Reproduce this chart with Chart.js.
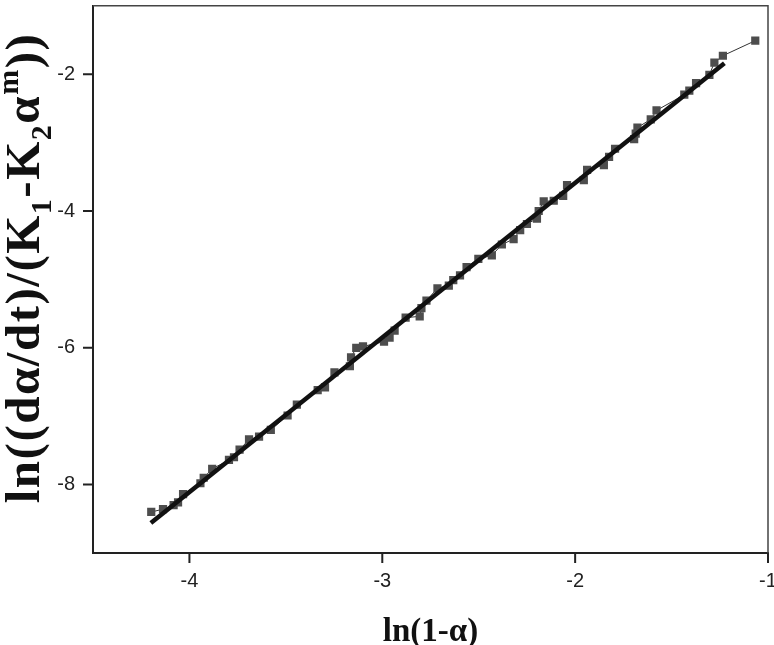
<!DOCTYPE html>
<html>
<head>
<meta charset="utf-8">
<script src="https://cdn.jsdelivr.net/npm/chart.js@4.4.0/dist/chart.umd.min.js"></script>
<style>
  html, body { margin: 0; padding: 0; background: #fff; }
</style>
</head>
<body>
<canvas id="fitChart" width="774" height="645"></canvas>
<script>
// ln(1-alpha) values (x) and ln((da/dt)/(K1-K2*a^m)) values (y)
const lnOneMinusAlpha = [
  -4.198, -4.137, -4.082, -4.059, -4.033, -3.943, -3.926, -3.882, -3.795, -3.769,
  -3.740, -3.691, -3.639, -3.578, -3.491, -3.443, -3.335, -3.297, -3.248, -3.168,
  -3.162, -3.135, -3.100, -2.991, -2.962, -2.936, -2.879, -2.806, -2.797, -2.771,
  -2.714, -2.655, -2.632, -2.597, -2.563, -2.502, -2.432, -2.380, -2.319, -2.285,
  -2.250, -2.198, -2.189, -2.163, -2.111, -2.062, -2.042, -1.955, -1.938, -1.851,
  -1.824, -1.793, -1.694, -1.686, -1.677, -1.608, -1.578, -1.434, -1.408, -1.373,
  -1.304, -1.278, -1.234, -1.066
];
const lnRateTerm = [
  -8.40, -8.36, -8.30, -8.26, -8.14, -7.98, -7.90, -7.77, -7.64, -7.60,
  -7.49, -7.34, -7.30, -7.20, -6.99, -6.83, -6.62, -6.58, -6.36, -6.27,
  -6.14, -6.00, -5.98, -5.91, -5.85, -5.75, -5.56, -5.54, -5.42, -5.31,
  -5.13, -5.09, -5.01, -4.94, -4.82, -4.70, -4.65, -4.49, -4.41, -4.28,
  -4.19, -4.11, -4.00, -3.86, -3.85, -3.78, -3.62, -3.55, -3.40, -3.33,
  -3.21, -3.09, -2.95, -2.87, -2.78, -2.66, -2.53, -2.30, -2.24, -2.13,
  -2.01, -1.83, -1.73, -1.51
];

// linear fit end points
const fitX = [-4.20, -1.226];
const fitY = [-8.56, -1.84];

// labelled ticks
const xTickLabels = [-4, -3, -2, -1];
const yTickLabels = [-8, -6, -4, -2];

const points = lnOneMinusAlpha.map((x, i) => ({ x: x, y: lnRateTerm[i] }));
const fitLine = fitX.map((x, i) => ({ x: x, y: fitY[i] }));

// tick marks: long at labelled values, short in between
const axisTicks = {
  id: 'axisTicks',
  afterDraw(chart) {
    const ctx = chart.ctx;
    const a = chart.chartArea;
    const xs = chart.scales.x;
    const ys = chart.scales.y;
    ctx.save();
    ctx.strokeStyle = '#222';
    ctx.lineWidth = 2;
    ctx.beginPath();
    xs.ticks.forEach(t => {
      const px = xs.getPixelForValue(t.value);
      if (px <= a.left + 1) return;
      const len = xTickLabels.includes(t.value) ? 10 : 6;
      ctx.moveTo(px, a.bottom);
      ctx.lineTo(px, a.bottom + len);
    });
    ys.ticks.forEach(t => {
      const py = ys.getPixelForValue(t.value);
      if (py >= a.bottom - 1 || py <= a.top + 1) return;
      const len = yTickLabels.includes(t.value) ? 10 : 6;
      ctx.moveTo(a.left, py);
      ctx.lineTo(a.left - len, py);
    });
    ctx.stroke();

    // thin frame on top and right
    ctx.strokeStyle = '#444';
    ctx.lineWidth = 1.5;
    ctx.beginPath();
    ctx.moveTo(a.left, a.top);
    ctx.lineTo(a.right, a.top);
    ctx.lineTo(a.right, a.bottom);
    ctx.stroke();
    ctx.restore();
  }
};

// y title with sub- and superscripts
const yTitle = {
  id: 'yTitle',
  afterDraw(chart) {
    const ctx = chart.ctx;
    const size = 49;
    const big = 'bold ' + size + 'px "Liberation Serif"';
    const small = 'bold ' + Math.round(size * 0.62) + 'px "Liberation Serif"';
    const parts = [
      { t: 'ln((d\u03b1/dt)/(K' },
      { t: '1', dy: 0.25 },
      { t: '-K' },
      { t: '2', dy: 0.25 },
      { t: '\u03b1' },
      { t: 'm', dy: -0.42 },
      { t: '))' }
    ];
    ctx.save();
    ctx.letterSpacing = '1.5px';
    let total = 0;
    parts.forEach(p => {
      ctx.font = p.dy ? small : big;
      p.w = ctx.measureText(p.t).width;
      total += p.w;
    });
    ctx.translate(39, 268);
    ctx.rotate(-Math.PI / 2);
    ctx.fillStyle = '#111';
    ctx.textBaseline = 'alphabetic';
    let x = -total / 2;
    parts.forEach(p => {
      ctx.font = p.dy ? small : big;
      ctx.fillText(p.t, x, (p.dy || 0) * size);
      x += p.w;
    });
    ctx.restore();
  }
};

new Chart(document.getElementById('fitChart'), {
  type: 'scatter',
  data: {
    datasets: [
      {
        label: 'fit',
        data: fitLine,
        showLine: true,
        borderColor: '#111',
        borderWidth: 4.5,
        pointRadius: 0,
        order: 0
      },
      {
        label: 'data',
        data: points,
        showLine: true,
        borderColor: '#333',
        borderWidth: 1,
        pointStyle: 'rect',
        pointRadius: 5.8,
        pointBackgroundColor: '#4d4d4d',
        pointBorderWidth: 0,
        order: 1
      }
    ]
  },
  options: {
    responsive: false,
    animation: false,
    devicePixelRatio: 1,
    layout: { padding: { left: 0, top: 3, right: 6, bottom: 0 } },
    plugins: {
      legend: { display: false },
      tooltip: { enabled: false }
    },
    scales: {
      x: {
        type: 'linear',
        min: -4.5,
        max: -1,
        grid: { display: true, drawOnChartArea: false, drawTicks: true, tickLength: 10, tickColor: 'rgba(0,0,0,0)' },
        border: { display: true, color: '#222', width: 2 },
        ticks: {
          stepSize: 0.5,
          padding: 6,
          maxRotation: 0,
          autoSkip: false,
          color: '#222',
          font: { family: '"Liberation Sans", Arial', size: 20 },
          callback: v => xTickLabels.includes(v) ? String(v) : null
        },
        title: {
          display: true,
          text: 'ln(1-\u03b1)',
          color: '#111',
          font: { family: '"Liberation Serif"', size: 33, weight: 'bold' },
          padding: { top: 0, bottom: -7 }
        },
        afterFit: s => {
          s.height = 92;
          s.paddingLeft = 0;
          s.paddingRight = 0;
        }
      },
      y: {
        type: 'linear',
        min: -9,
        max: -1,
        grid: { display: true, drawOnChartArea: false, drawTicks: true, tickLength: 10, tickColor: 'rgba(0,0,0,0)' },
        border: { display: true, color: '#222', width: 2 },
        ticks: {
          stepSize: 1,
          padding: 8,
          autoSkip: false,
          color: '#222',
          font: { family: '"Liberation Sans", Arial', size: 20 },
          callback: v => yTickLabels.includes(v) ? String(v) : null
        },
        afterFit: s => {
          s.width = 93;
          s.paddingTop = 0;
          s.paddingBottom = 0;
        }
      }
    }
  },
  plugins: [axisTicks, yTitle]
});
</script>
</body>
</html>
